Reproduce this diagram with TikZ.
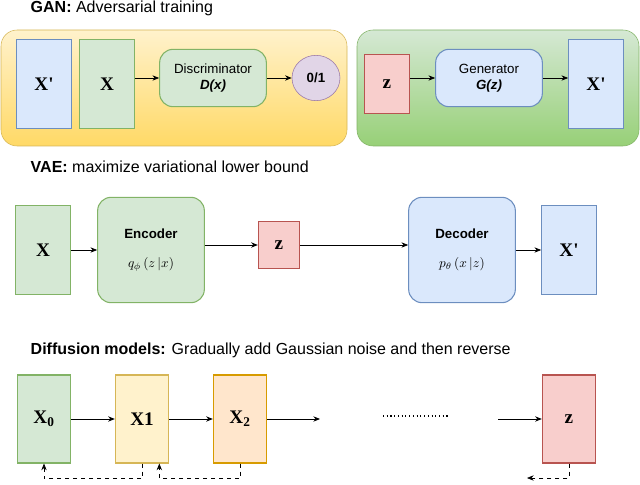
\documentclass[tikz,border=0pt]{standalone}
\usepackage{fontspec}
\setmainfont{Liberation Sans}
\newfontfamily\serif{Liberation Serif}
\usetikzlibrary{arrows.meta,shapes.geometric}
\definecolor{bluef}{HTML}{DAE8FC}\definecolor{bluel}{HTML}{6C8EBF}
\definecolor{greenf}{HTML}{D5E8D4}\definecolor{greenl}{HTML}{82B366}
\definecolor{redf}{HTML}{F8CECC}\definecolor{redl}{HTML}{B85450}
\definecolor{yelf}{HTML}{FFF2CC}\definecolor{yell}{HTML}{D6B656}
\definecolor{oraf}{HTML}{FFE6CC}\definecolor{oral}{HTML}{D79B00}
\definecolor{purf}{HTML}{E1D5E7}\definecolor{purl}{HTML}{9673A6}
\definecolor{yelb}{HTML}{FFD966}\definecolor{greb}{HTML}{97D077}
\begin{document}
\begin{tikzpicture}[x=0.75pt,y=-0.75pt,
 box/.style={draw,line width=0.8pt,inner sep=0pt,font=\serif\bfseries\Large},
 rbox/.style={draw,line width=0.8pt,rounded corners=10pt,inner sep=0pt,align=center,font=\normalsize},
 arr/.style={-{Stealth[length=5pt,width=4pt]},line width=0.6pt},
 darr/.style={-{Stealth[length=5pt,width=4pt]},dashed,line width=0.5pt},
 ttl/.style={anchor=west,font=\large}]
\useasboundingbox (0,0) rectangle (640,485);
\shade[top color=yelf,bottom color=yelb,draw=yell,rounded corners=12pt] (1,30) rectangle (347,146);
\shade[top color=greenf,bottom color=greb,draw=greenl,rounded corners=12pt] (357,30) rectangle (639,146);
\node[ttl] (t1) at (26,8) {\textbf{GAN:} Adversarial training};
\node[box,fill=bluef,draw=bluel,minimum width=41pt,minimum height=67pt] (xp) at (44,84) {X'};
\node[box,fill=greenf,draw=greenl,minimum width=41pt,minimum height=67pt] (x) at (107,84) {X};
\node[rbox,fill=greenf,draw=greenl,minimum width=80pt,minimum height=43pt] (d) at (213,78) {Discriminator\\\textbf{\textit{D(x)}}};
\node[draw=purl,fill=purf,ellipse,minimum width=36pt,minimum height=34pt,inner sep=0pt,font=\bfseries] (o) at (316,78) {0/1};
\draw[arr] (x.east|-d) -- (d); \draw[arr] (d) -- (o);
\node[box,fill=redf,draw=redl,minimum width=34pt,minimum height=44pt] (z) at (387,84) {z};
\node[rbox,fill=bluef,draw=bluel,minimum width=80pt,minimum height=43pt] (g) at (489,78) {Generator\\\textbf{\textit{G(z)}}};
\node[box,fill=bluef,draw=bluel,minimum width=41pt,minimum height=67pt] (xp2) at (596,84) {X'};
\draw[arr] (z.east|-g) -- (g); \draw[arr] (g) -- (xp2.west|-g);
\node[ttl] (t2) at (26,167) {\textbf{VAE:} maximize variational lower bound};
\node[box,fill=greenf,draw=greenl,minimum width=41pt,minimum height=67pt] (vx) at (43,250) {X};
\node[rbox,fill=greenf,draw=greenl,minimum width=80pt,minimum height=79pt] (enc) at (151,250) {\textbf{Encoder}\\[10pt]$q_\phi\left(z\,|x\right)$};
\node[box,fill=redf,draw=redl,minimum width=31pt,minimum height=35pt] (vz) at (279,245) {z};
\node[rbox,fill=bluef,draw=bluel,minimum width=80pt,minimum height=79pt] (dec) at (462,250) {\textbf{Decoder}\\[10pt]$p_\theta\left(x\,|z\right)$};
\node[box,fill=bluef,draw=bluel,minimum width=41pt,minimum height=67pt] (vxp) at (569,250) {X'};
\draw[arr] (vx) -- (enc); \draw[arr] (enc.east|-vz) -- (vz); \draw[arr] (vz) -- (dec.west|-vz); \draw[arr] (dec) -- (vxp);
\node[ttl] (t3) at (26,350) {\textbf{Diffusion models:} Gradually add Gaussian noise and then reverse};
\node[box,fill=greenf,draw=greenl,minimum width=40pt,minimum height=66pt] (x0) at (44,419) {X\textsubscript{0}};
\node[box,fill=yelf,draw=yell,minimum width=40pt,minimum height=66pt] (x1) at (142,419) {X1};
\node[box,fill=oraf,draw=oral,minimum width=40pt,minimum height=66pt] (x2) at (240,419) {X\textsubscript{2}};
\node[box,fill=redf,draw=redl,minimum width=40pt,minimum height=66pt] (zz) at (569,419) {z};
\coordinate (e2) at (320,419); \coordinate (s3) at (498,419);
\coordinate (d1) at (383,416); \coordinate (d2) at (450,416);
\coordinate (ze) at (527,478);
\draw[arr] (x0) -- (x1); \draw[arr] (x1) -- (x2); \draw[arr] (x2) -- (e2); \draw[arr] (s3) -- (zz);
\draw[dotted,line width=0.8pt] (d1) -- (d2);
\draw[darr] (x1.south) -- ++(0,15) -| (x0.south);
\draw[darr] (x2.south) -- ++(0,15) -| ([xshift=13]x1.south);
\draw[darr] (zz.south) |- (ze);
\end{tikzpicture}
\end{document}
